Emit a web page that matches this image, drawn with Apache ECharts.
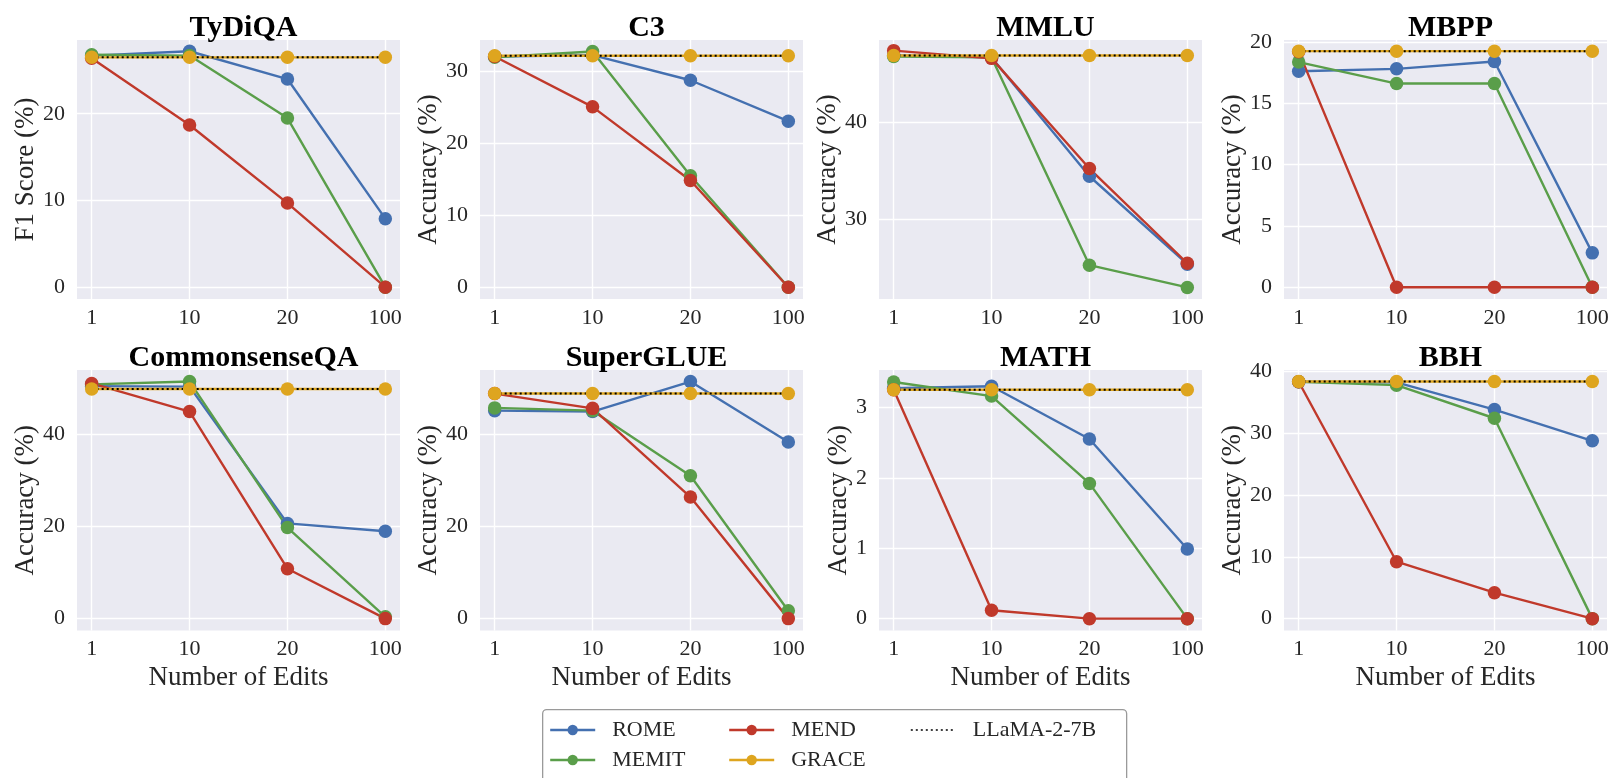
<!DOCTYPE html>
<html><head><meta charset="utf-8">
<script src="https://cdn.jsdelivr.net/npm/echarts@6/dist/echarts.min.js"></script>
<style>html,body{margin:0;padding:0;background:#fff}#c{width:1616px;height:778px}</style>
</head><body><div id="c"></div>
<script>
// ---- data ----
const editCounts = ['1', '10', '20', '100'];
const datasets = ['TyDiQA', 'C3', 'MMLU', 'MBPP', 'CommonsenseQA', 'SuperGLUE', 'MATH', 'BBH'];
const yAxisTitles = ['F1 Score (%)', 'Accuracy (%)', 'Accuracy (%)', 'Accuracy (%)', 'Accuracy (%)', 'Accuracy (%)', 'Accuracy (%)', 'Accuracy (%)'];
const yTicks = [[0, 10, 20], [0, 10, 20, 30], [30, 40], [0, 5, 10, 15, 20], [0, 20, 40], [0, 20, 40], [0, 1, 2, 3], [0, 10, 20, 30, 40]];
const yMins = [-1.36, -1.64, 21.7, -0.96, -2.57, -2.57, -0.168, -1.92];
const yMaxs = [28.5, 34.4, 48.5, 20.15, 53.8, 53.8, 3.53, 40.2];
const romeScores = [
  [26.7, 27.2, 24.0, 7.9], [32.1, 32.3, 28.8, 23.1], [46.9, 46.7, 34.4, 25.3], [17.6, 17.8, 18.4, 2.8],
  [50.3, 50.2, 20.6, 18.9], [45.0, 44.8, 51.3, 38.2], [3.27, 3.30, 2.55, 0.99], [38.3, 38.2, 33.8, 28.75]];
const memitScores = [
  [26.8, 26.7, 19.5, 0], [32.0, 32.8, 15.5, 0], [46.8, 46.7, 25.2, 22.9], [18.35, 16.6, 16.6, 0],
  [50.7, 51.3, 19.7, 0.4], [45.6, 45.0, 30.9, 1.7], [3.36, 3.16, 1.92, 0], [38.3, 37.75, 32.4, 0]];
const mendScores = [
  [26.4, 18.7, 9.7, 0], [32.1, 25.1, 14.85, 0], [47.4, 46.6, 35.2, 25.4], [19.2, 0, 0, 0],
  [50.9, 44.8, 10.8, 0], [48.7, 45.5, 26.3, 0], [3.25, 0.12, 0, 0], [38.3, 9.2, 4.2, 0]];
const graceScores = [
  [26.5, 26.5, 26.5, 26.5], [32.2, 32.2, 32.2, 32.2], [46.9, 46.9, 46.9, 46.9], [19.24, 19.24, 19.24, 19.24],
  [49.7, 49.7, 49.7, 49.7], [48.7, 48.7, 48.7, 48.7], [3.25, 3.25, 3.25, 3.25], [38.35, 38.35, 38.35, 38.35]];
const llamaBaseline = [26.5, 32.2, 46.9, 19.24, 49.7, 48.7, 3.25, 38.35];

// ---- layout / style ----
const FONT = 'Liberation Serif';
const TXT = '#262626';
const gridLefts = [77, 480, 879, 1284];
const gridWidth = 323;
const rowTops = [40, 370];
const rowHeights = [259, 260.5];
const titleTops = [8, 338];
const nameGaps = [38, 34, 33, 35, 38, 36, 25, 35];
const colors = { ROME: '#4470B0', MEMIT: '#5A9E4A', MEND: '#C0392B', GRACE: '#DEA51F' };
const methods = [['ROME', romeScores], ['MEMIT', memitScores], ['MEND', mendScores], ['GRACE', graceScores]];
const xIdx = editCounts.map((_, i) => i);

const grids = [], xAxes = [], yAxes = [], series = [], titles = [];
datasets.forEach((name, k) => {
  const row = Math.floor(k / 4), col = k % 4;
  grids.push({ left: gridLefts[col], top: rowTops[row], width: gridWidth, height: rowHeights[row],
    show: true, backgroundColor: '#EAEAF2', borderWidth: 0, containLabel: false });
  titles.push({ text: name, left: gridLefts[col] + gridWidth / 2, top: titleTops[row], textAlign: 'center',
    textStyle: { fontFamily: FONT, fontWeight: 'bold', fontSize: 30, color: '#000' } });
  xAxes.push({ type: 'value', gridIndex: k, min: -0.15, max: 3.15,
    name: row === 1 ? 'Number of Edits' : '', nameLocation: 'middle', nameGap: 34,
    nameTextStyle: { fontFamily: FONT, fontSize: 27, color: TXT },
    axisLine: { show: false },
    axisTick: { show: false, customValues: xIdx },
    axisLabel: { customValues: xIdx, margin: 8, fontFamily: FONT, fontSize: 22, color: TXT,
      formatter: v => editCounts[Math.round(v)] },
    splitLine: { show: true, lineStyle: { color: '#fff', width: 1.4 } } });
  yAxes.push({ type: 'value', gridIndex: k, min: yMins[k], max: yMaxs[k],
    name: yAxisTitles[k], nameLocation: 'middle', nameGap: nameGaps[k],
    nameTextStyle: { fontFamily: FONT, fontSize: 27, color: TXT },
    axisLine: { show: false },
    axisTick: { show: false, customValues: yTicks[k] },
    axisLabel: { customValues: yTicks[k], margin: 12, fontFamily: FONT, fontSize: 22, color: TXT },
    splitLine: { show: true, lineStyle: { color: '#fff', width: 1.4 } } });
  methods.forEach(([m, arr]) => {
    series.push({ name: m, type: 'line', xAxisIndex: k, yAxisIndex: k,
      data: arr[k].map((v, i) => [xIdx[i], v]),
      symbol: 'circle', symbolSize: 13.5, showSymbol: true,
      itemStyle: { color: colors[m] }, lineStyle: { color: colors[m], width: 2.4 },
      animation: false, silent: true });
  });
  series.push({ name: 'LLaMA-2-7B', type: 'line', xAxisIndex: k, yAxisIndex: k,
    data: xIdx.map(i => [i, llamaBaseline[k]]), symbol: 'none',
    itemStyle: { color: '#000' }, lineStyle: { color: '#000', width: 2, type: [2, 3] },
    animation: false, silent: true });
});

function mkLegend(name, left, top, extra) {
  return Object.assign({
    orient: 'horizontal', padding: 0, itemWidth: 45, itemHeight: 13, left: left, top: top,
    data: [name], selectedMode: false,
    lineStyle: { width: 2.4 },
    textStyle: { fontFamily: FONT, fontSize: 22, color: TXT, padding: [0, 0, 0, 12] }
  }, extra || {});
}
const legends = [
  mkLegend('ROME', 549, 719),
  mkLegend('MEMIT', 549, 749),
  mkLegend('MEND', 728, 719),
  mkLegend('GRACE', 728, 749),
  mkLegend('LLaMA-2-7B', 910, 719, { itemStyle: { opacity: 0 }, lineStyle: { width: 1.6 } })
];

const chart = echarts.init(document.getElementById('c'), null, { renderer: 'canvas' });
chart.setOption({
  backgroundColor: '#fff',
  animation: false,
  title: titles,
  grid: grids, xAxis: xAxes, yAxis: yAxes, series: series,
  legend: legends,
  graphic: [{ type: 'rect', left: 542, top: 709, shape: { width: 584, height: 90, r: 4 },
    style: { fill: 'rgba(255,255,255,0.8)', stroke: '#9a9a9a', lineWidth: 1.3 }, z: -1 }]
});
</script></body></html>
